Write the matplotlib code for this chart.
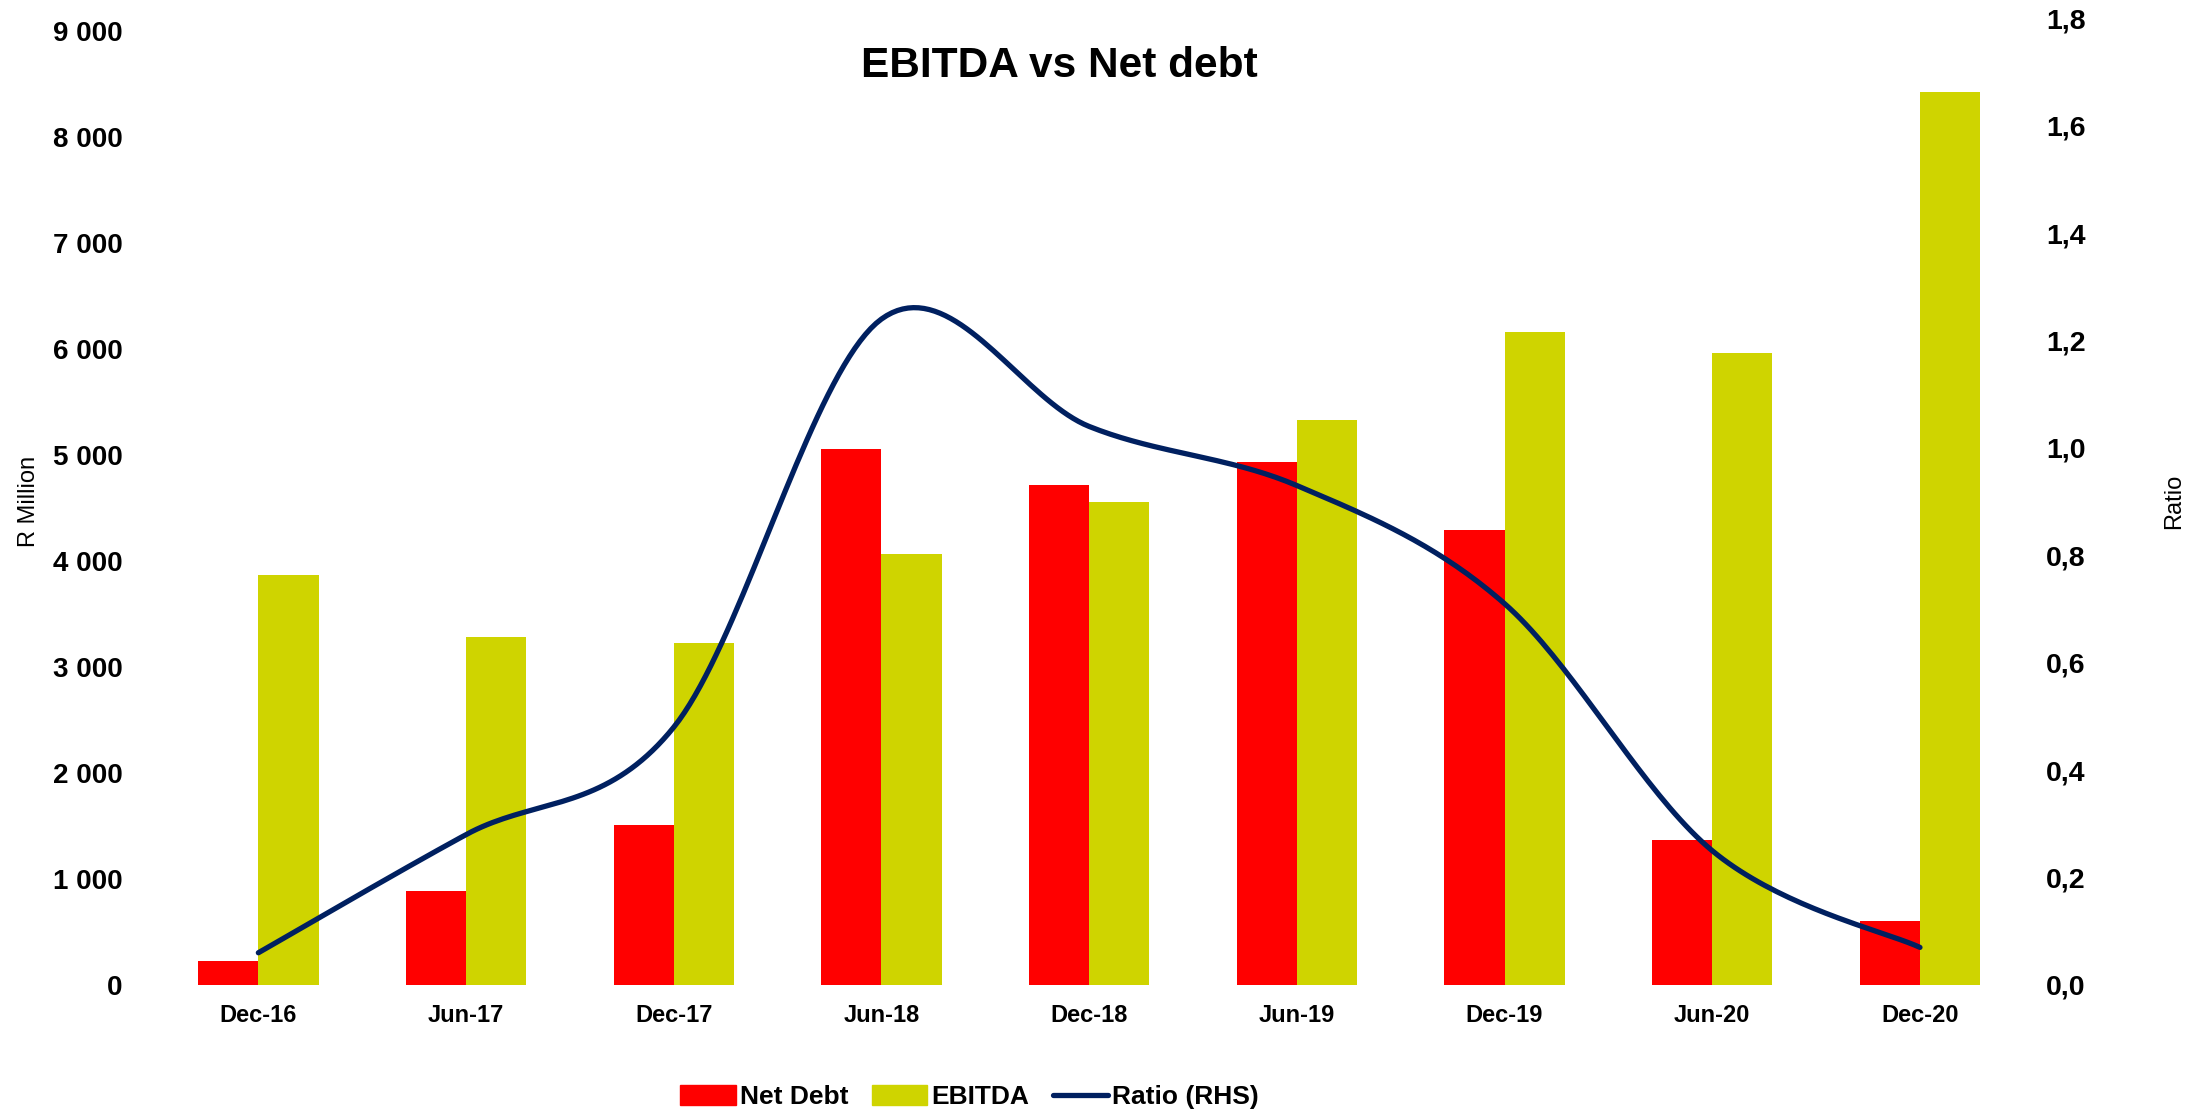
import numpy as np
import matplotlib.pyplot as plt
from matplotlib.patches import Patch
from matplotlib.lines import Line2D

plt.rcParams['font.family'] = ['Liberation Sans', 'DejaVu Sans']

periodes = ["Dec-16", "Jun-17", "Dec-17", "Jun-18", "Dec-18", "Jun-19", "Dec-19", "Jun-20", "Dec-20"]
net_debt = [230, 890, 1510, 5060, 4720, 4930, 4290, 1370, 600]
ebitda = [3870, 3280, 3230, 4070, 4560, 5330, 6160, 5960, 8420]
ratio = [0.06, 0.28, 0.48, 1.24, 1.04, 0.93, 0.71, 0.25, 0.07]
yticks_g = [0, 1000, 2000, 3000, 4000, 5000, 6000, 7000, 8000, 9000]
yticks_d = [0.0, 0.2, 0.4, 0.6, 0.8, 1.0, 1.2, 1.4, 1.6, 1.8]

ROUGE = "#FF0000"
JAUNE = "#CFD400"
MARINE = "#002060"


def lissage(x, y, n=40):
    # courbe lissée façon Excel (Bezier avec tangentes Catmull-Rom)
    x = np.asarray(x, float)
    y = np.asarray(y, float)
    px, py = [], []
    for i in range(len(x) - 1):
        x0, y0 = (x[i - 1], y[i - 1]) if i > 0 else (x[i], y[i])
        x3, y3 = (x[i + 2], y[i + 2]) if i + 2 < len(x) else (x[i + 1], y[i + 1])
        c1x = x[i] + (x[i + 1] - x0) / 6
        c1y = y[i] + (y[i + 1] - y0) / 6
        c2x = x[i + 1] - (x3 - x[i]) / 6
        c2y = y[i + 1] - (y3 - y[i]) / 6
        t = np.linspace(0, 1, n)
        bx = (1 - t) ** 3 * x[i] + 3 * (1 - t) ** 2 * t * c1x + 3 * (1 - t) * t ** 2 * c2x + t ** 3 * x[i + 1]
        by = (1 - t) ** 3 * y[i] + 3 * (1 - t) ** 2 * t * c1y + 3 * (1 - t) * t ** 2 * c2y + t ** 3 * y[i + 1]
        px.extend(bx)
        py.extend(by)
    return px, py


fig = plt.figure(figsize=(22.07, 11.15), dpi=100)
ax = fig.add_axes([0.070, 0.1166, 0.847, 0.867])
ax2 = ax.twinx()

lx = np.arange(len(periodes))
larg = 0.29
ax.bar(lx - larg / 2, net_debt, larg, color=ROUGE, zorder=2)
ax.bar(lx + larg / 2, ebitda, larg, color=JAUNE, zorder=2)

sx, sy = lissage(lx, ratio)
ax2.plot(sx, sy, color=MARINE, lw=3.8, solid_capstyle='round', zorder=3)

ax.set_xlim(-0.5, len(periodes) - 0.5)
ax.set_ylim(0, 9120)
ax2.set_ylim(0, 1.8)

ax.set_xticks(lx)
ax.set_xticklabels(periodes, fontsize=17, fontweight='bold')
ax.set_yticks(yticks_g)
ax.set_yticklabels([f"{v:,}".replace(",", " ") for v in yticks_g], fontsize=20, fontweight='bold')
ax2.set_yticks(yticks_d)
ax2.set_yticklabels([f"{v:.1f}".replace(".", ",") for v in yticks_d], fontsize=20.5, fontweight='bold')

ax.tick_params(axis='y', length=0, pad=23)
ax.tick_params(axis='x', length=0, pad=14)
ax2.tick_params(axis='y', length=0, pad=16)

for a in (ax, ax2):
    for s in a.spines.values():
        s.set_visible(False)

ax.set_ylabel("R Million", fontsize=17, labelpad=9)
ax2.set_ylabel("Ratio", fontsize=17, labelpad=56)

fig.suptitle("EBITDA vs Net debt", fontsize=30.5, fontweight='bold', x=0.48, y=0.959)

poignees = [Patch(color=ROUGE), Patch(color=JAUNE),
            Line2D([0], [0], color=MARINE, lw=3.8, solid_capstyle='round')]
fig.legend(poignees, ["Net Debt", "EBITDA", "Ratio (RHS)"], loc='center',
           bbox_to_anchor=(0.4394, 0.016), ncol=3, frameon=False,
           prop={'size': 19, 'weight': 'bold'}, handlelength=2.1, handleheight=0.75,
           handletextpad=0.15, columnspacing=0.9)

fig.savefig("out.png", dpi=100)
